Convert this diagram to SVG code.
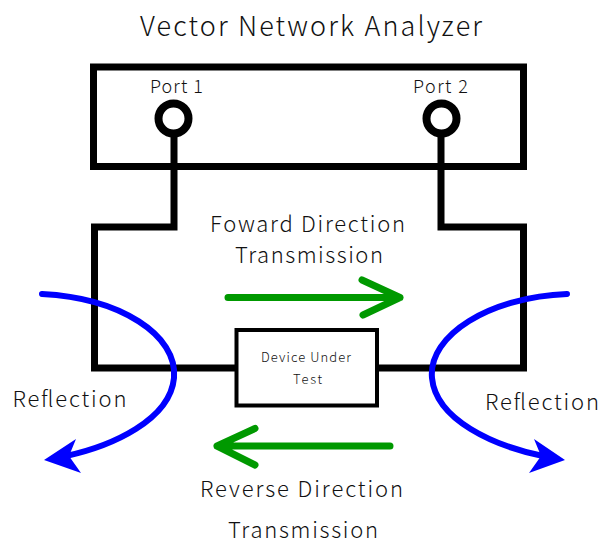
<svg xmlns="http://www.w3.org/2000/svg" width="605" height="544" viewBox="0 0 605 544">
<style>
text{font-family:"Noto Sans CJK JP","Noto Sans",sans-serif;font-weight:300;fill:#111;}
.wire{fill:none;stroke:#000;stroke-width:7;stroke-linejoin:miter;}
.blue{fill:none;stroke:#0000ff;stroke-width:6;stroke-linecap:round;}
.green{fill:none;stroke:#009900;stroke-width:7;stroke-linecap:round;stroke-linejoin:round;}
</style>
<rect width="605" height="544" fill="#fff"/>
<g id="title"><text x="140" y="36" font-size="27" textLength="342" lengthAdjust="spacing">Vector Network Analyzer</text></g>
<g id="vna">
<rect x="93.5" y="67" width="430" height="99.5" fill="none" stroke="#000" stroke-width="7"/>
</g>
<g id="port1">
<text x="150" y="92.5" font-size="18" textLength="53" lengthAdjust="spacing">Port 1</text>
<circle cx="173.5" cy="118.5" r="15" fill="#fff" stroke="#000" stroke-width="8"/>
</g>
<g id="port2">
<text x="413" y="92.5" font-size="18" textLength="55" lengthAdjust="spacing">Port 2</text>
<circle cx="441.5" cy="118.5" r="15" fill="#fff" stroke="#000" stroke-width="8"/>
</g>
<g id="connectors">
<path class="wire" d="M174 135 V227 H94.5 V368 H237"/>
<path class="wire" d="M441 135 V227 H523.5 V368 H376"/>
<path class="green" d="M228 297.5 H400 M362 280 L400 297.5 L363 315"/>
<path class="green" d="M390 446 H217 M255 428.5 L217 446 L255 465"/>
<path class="blue" d="M42 294 C120 298 178 335 174 378 C170 420 112 446 66 456"/>
<polygon fill="#0000ff" points="44,460 76,439 69,456 81,473"/>
<path class="blue" d="M567 294 C490 297 428 335 432 378 C436 420 494 446 543 456"/>
<polygon fill="#0000ff" points="565,460 534,439 541,456 529,473"/>
</g>
<g id="dut">
<rect x="236.5" y="330" width="140.5" height="75.5" fill="#fff" stroke="#000" stroke-width="4"/>
<text x="261" y="361.5" font-size="13" textLength="90" lengthAdjust="spacing">Device Under</text>
<text x="293" y="383.5" font-size="13" textLength="29" lengthAdjust="spacing">Test</text>
</g>
<g id="labels">
<text x="210" y="231.5" font-size="22" textLength="195" lengthAdjust="spacing">Foward Direction</text>
<text x="235" y="263" font-size="22" textLength="148" lengthAdjust="spacing">Transmission</text>
<text x="200" y="497" font-size="22" textLength="203" lengthAdjust="spacing">Reverse Direction</text>
<text x="228" y="538" font-size="22" textLength="150" lengthAdjust="spacing">Transmission</text>
<text x="12.5" y="406.5" font-size="22" textLength="114" lengthAdjust="spacing">Reflection</text>
<text x="485" y="410" font-size="22" textLength="114" lengthAdjust="spacing">Reflection</text>
</g>
</svg>
